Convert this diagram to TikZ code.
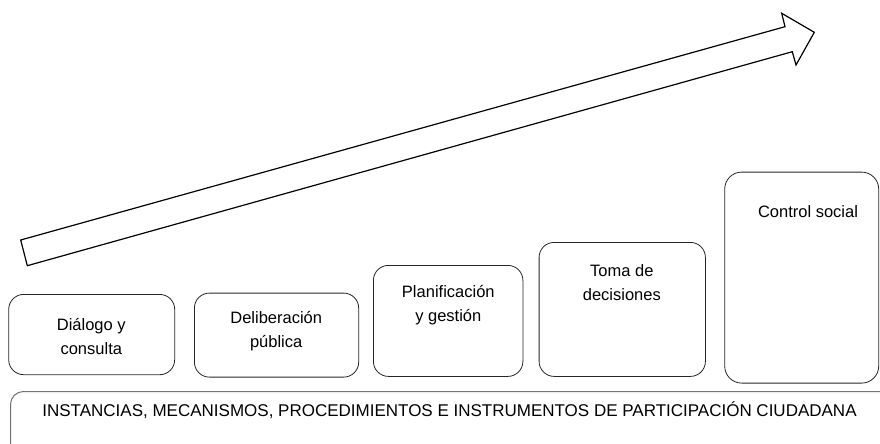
\documentclass[tikz,border=0pt]{standalone}
\usepackage{fontspec}
\setmainfont{Liberation Sans}
\begin{document}
\begin{tikzpicture}[x=1pt, y=-1pt,
    etapa/.style={draw=black!85, line width=.8pt, rounded corners=15pt, anchor=north west, inner sep=0pt},
    texto/.style={align=center, anchor=base, inner sep=0pt, font=\fontsize{16.5}{24}\selectfont, text=black}]
    \useasboundingbox (0,0) rectangle (880,444);

    %%Flecha
    \coordinate (f1) at (20.7, 240);
    \coordinate (f2) at (785, 26.7);
    \coordinate (f3) at (781.7, 13.3);
    \coordinate (f4) at (814.3, 32.3);
    \coordinate (f5) at (796, 65);
    \coordinate (f6) at (792.3, 51.7);
    \coordinate (f7) at (27.3, 265.7);
        \draw[line width=1.2pt, line join=miter](f1) -- (f2) -- (f3) -- (f4) -- (f5) -- (f6) -- (f7) -- cycle;

    %%B1
    \node[etapa, minimum width=166, minimum height=80.3] (b1) at (8.3, 294){};
    \node[texto] (t1) at (91.3, 354.5){Diálogo y\\consulta};
    %%B2
    \node[etapa, minimum width=164.3, minimum height=84] (b2) at (194, 292.7){};
    \node[texto] (t2) at (276.2, 347.8){Deliberación\\pública};
    %%B3
    \node[etapa, minimum width=149.5, minimum height=111] (b3) at (373, 265){};
    \node[texto] (t3) at (448.3, 321.6){Planificación\\y gestión};
    %%B4
    \node[etapa, minimum width=166.3, minimum height=134] (b4) at (538.7, 242){};
    \node[texto] (t4) at (621.8, 300){Toma de\\decisiones};
    %%B5
    \node[etapa, rounded corners=17pt, minimum width=154, minimum height=211] (b5) at (724.3, 171.7){};
    \node[texto] (t5) at (808, 217.3){Control social};

    %%Base
    \node[etapa, draw=black!55, line width=1pt, rounded corners=13pt, minimum width=900, minimum height=90] (base) at (10, 391){};
    \node[texto, font=\fontsize{17}{24}\selectfont] (t6) at (449.5, 416.7){INSTANCIAS, MECANISMOS, PROCEDIMIENTOS E INSTRUMENTOS DE PARTICIPACIÓN CIUDADANA};

\end{tikzpicture}
\end{document}
